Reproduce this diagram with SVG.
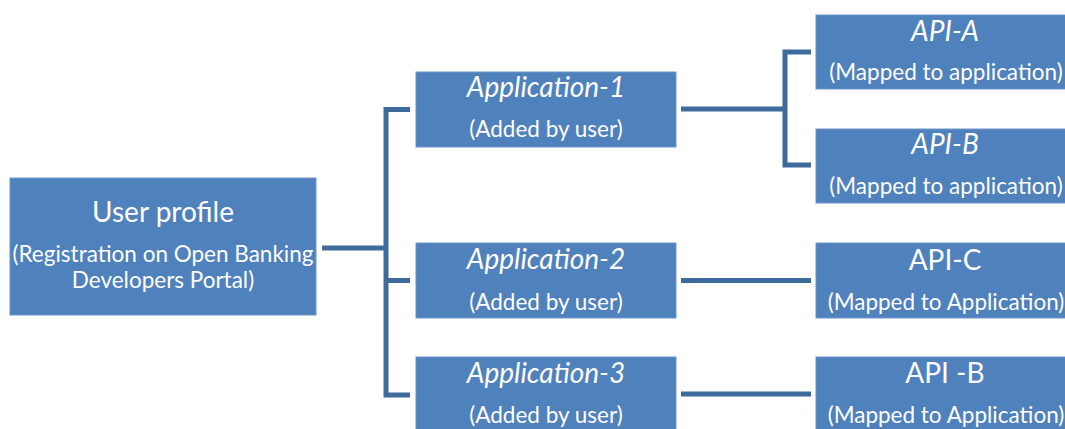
<svg xmlns="http://www.w3.org/2000/svg" width="1065" height="429" viewBox="0 0 1065 429">
<style>
.box{fill:#4F81BD;stroke:#6E96C8;stroke-width:1}
.t{font-family:Lato,"Open Sans",sans-serif;fill:#FFFFFF;text-anchor:middle}
.big{font-size:28px}
.sm{font-size:22.5px}
.it{font-style:italic}
.c{fill:none;stroke:#3F6A9C;stroke-width:5}
</style>
<rect width="1065" height="429" fill="#FFFFFF"/>
<g id="connectors">
<path class="c" d="M322 248H386"/>
<path class="c" d="M410 109.5H386V395H410M386 280.5H410"/>
<path class="c" d="M681 109H785"/>
<path class="c" d="M811 52H785V165H811"/>
<path class="c" d="M681 280.5H811"/>
<path class="c" d="M681 394H811"/>
</g>
<g id="user-profile">
<rect class="box" x="10" y="178" width="306" height="137"/>
<text class="t big" x="163" y="222">User profile</text>
<text class="t sm" x="163" y="262">(Registration on Open Banking</text>
<text class="t sm" x="163" y="288">Developers Portal)</text>
</g>
<g id="application-1">
<rect class="box" x="416" y="72" width="260" height="75"/>
<text class="t big it" x="546" y="97">Application-1</text>
<text class="t sm" x="546" y="137">(Added by user)</text>
</g>
<g id="application-2">
<rect class="box" x="416" y="243" width="260" height="75"/>
<text class="t big it" x="546" y="269">Application-2</text>
<text class="t sm" x="546" y="310">(Added by user)</text>
</g>
<g id="application-3">
<rect class="box" x="416" y="357" width="260" height="75"/>
<text class="t big it" x="546" y="383">Application-3</text>
<text class="t sm" x="546" y="423">(Added by user)</text>
</g>
<g id="api-a">
<rect class="box" x="816" y="15" width="252" height="74"/>
<text class="t big it" x="945" y="41">API-A</text>
<text class="t sm" x="946" y="80">(Mapped to application)</text>
</g>
<g id="api-b">
<rect class="box" x="816" y="129" width="252" height="74"/>
<text class="t big it" x="945" y="154">API-B</text>
<text class="t sm" x="946" y="194">(Mapped to application)</text>
</g>
<g id="api-c">
<rect class="box" x="816" y="243" width="252" height="75"/>
<text class="t big" x="945" y="270">API-C</text>
<text class="t sm" x="946" y="310">(Mapped to Application)</text>
</g>
<g id="api-b-2">
<rect class="box" x="816" y="357" width="252" height="75"/>
<text class="t big" x="945" y="383">API -B</text>
<text class="t sm" x="946" y="423">(Mapped to Application)</text>
</g>
</svg>
